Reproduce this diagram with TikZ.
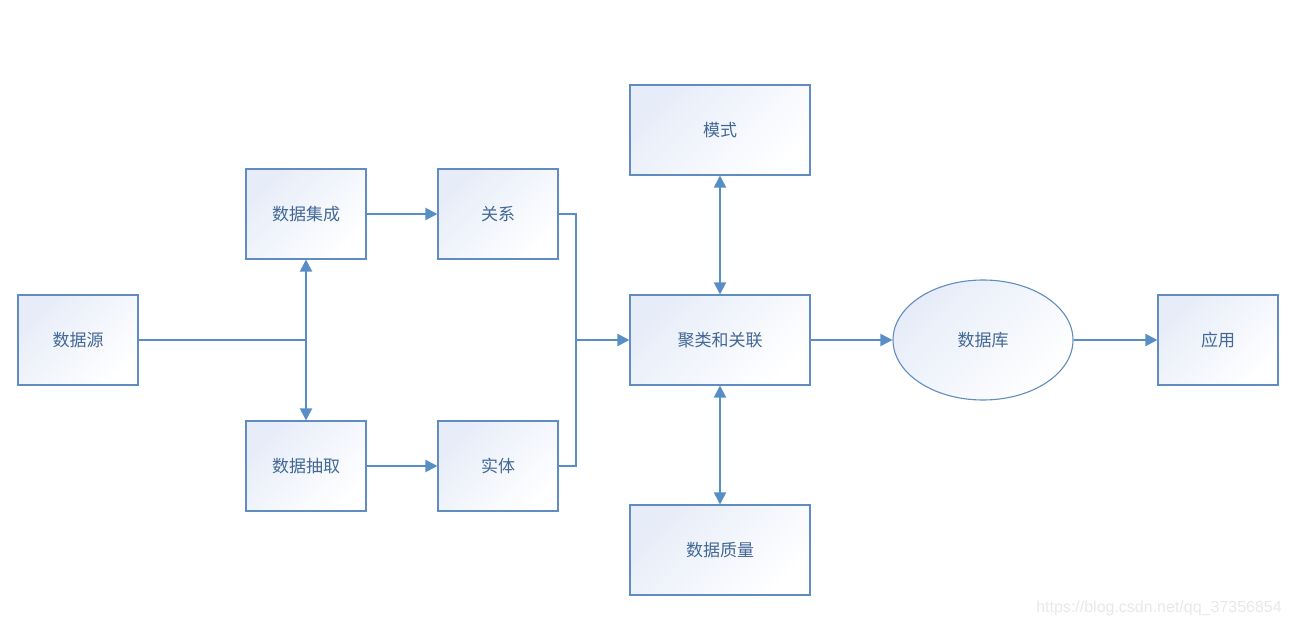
\documentclass[tikz,border=0pt]{standalone}
\usepackage{fontspec}
\setmainfont{Noto Sans CJK SC}
\usetikzlibrary{arrows.meta,shapes.geometric,calc}
\definecolor{bordc}{RGB}{96,140,192}
\definecolor{linec}{RGB}{88,142,198}
\definecolor{txtc}{RGB}{66,104,150}
\definecolor{gradc}{RGB}{230,236,248}
\definecolor{wmc}{RGB}{232,232,232}
\tikzset{
  box/.style={draw=bordc, line width=1.1bp, minimum width=120bp, minimum height=90bp, inner sep=0pt,
    top color=gradc, bottom color=white, shading angle=45, text=txtc, font=\fontsize{17bp}{19bp}\selectfont},
  widebox/.style={box, minimum width=180bp},
  dbell/.style={ellipse, draw=bordc, line width=1.1bp, minimum width=180bp, minimum height=120bp, inner sep=0pt,
    top color=gradc, bottom color=white, shading angle=45, text=txtc, font=\fontsize{17bp}{19bp}\selectfont},
  conn/.style={draw=linec, line width=2bp},
  arr/.style={conn, -{Triangle[length=12bp,width=12bp]}},
  darr/.style={conn, {Triangle[length=12bp,width=12bp]}-{Triangle[length=12bp,width=12bp]}},
}
\begin{document}
\begin{tikzpicture}[x=1bp,y=-1bp]
\useasboundingbox (0,0) rectangle (1290,626);
\node[box] (src) at (78,340) {数据源};
\node[box] (integ) at (306,214) {数据集成};
\node[box] (extr) at (306,466) {数据抽取};
\node[box] (rel) at (498,214) {关系};
\node[box] (ent) at (498,466) {实体};
\node[widebox] (clus) at (720,340) {聚类和关联};
\node[widebox] (mode) at (720,130) {模式};
\node[widebox] (qual) at (720,550) {数据质量};
\node[dbell] (db) at (983,340) {数据库};
\node[box] (app) at (1218,340) {应用};
\coordinate (j1) at (306,340);
\coordinate (j2) at (576,340);
\node[text=wmc, font=\fontsize{16bp}{18bp}\selectfont\fontspec{Liberation Sans}, anchor=east, inner sep=0pt] (wm) at (1282,608) {https://blog.csdn.net/qq\_37356854};
\draw[conn] (src.east) -- (j1);
\draw[arr] (j1) -- (integ.south);
\draw[arr] (j1) -- (extr.north);
\draw[arr] (integ.east) -- (rel.west);
\draw[arr] (extr.east) -- (ent.west);
\draw[conn] (rel.east) -| (j2);
\draw[conn] (ent.east) -| (j2);
\draw[arr] (j2) -- (clus.west);
\draw[darr] (mode.south) -- (clus.north);
\draw[darr] (clus.south) -- (qual.north);
\draw[arr] (clus.east) -- (db.west);
\draw[arr] (db.east) -- (app.west);
\end{tikzpicture}
\end{document}
